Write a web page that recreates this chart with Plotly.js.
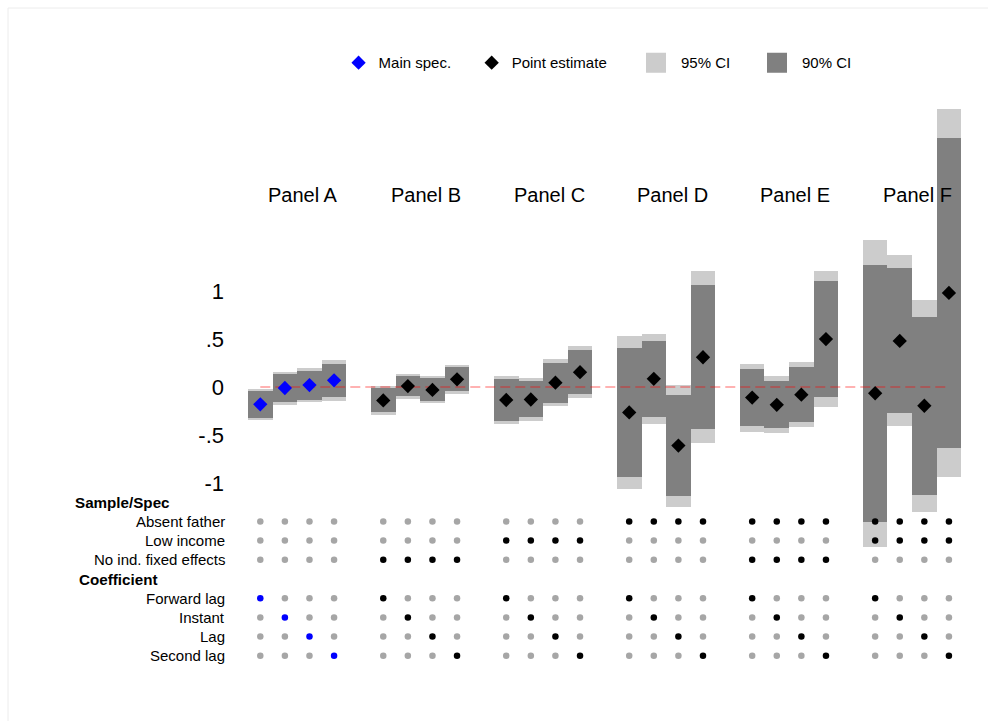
<!DOCTYPE html>
<html>
<head>
<meta charset="utf-8">
<script src="https://cdn.plot.ly/plotly-3.0.1.min.js"></script>
<style>
  html, body { margin: 0; padding: 0; background: #ffffff; }
  #chart { width: 988px; height: 721px; }
</style>
</head>
<body>
<div id="chart"></div>
<script>
// Specification chart: four coefficient timings estimated in each of six panels.
const panels = ['Panel A', 'Panel B', 'Panel C', 'Panel D', 'Panel E', 'Panel F'];
const coefficients = ['Forward lag', 'Instant', 'Lag', 'Second lag'];
const sampleRows = ['Absent father', 'Low income', 'No ind. fixed effects'];

// Sample / specification switches for each panel (1 = on)
const absentFather = [0, 0, 0, 1, 1, 1];
const lowIncome    = [0, 0, 1, 0, 0, 1];
const noIndFE      = [0, 1, 0, 0, 1, 0];
const mainPanel = 0; // the main specification is Panel A

// Point estimates and confidence bounds, four per panel (A..F)
const estimate = [
  -0.18, -0.01, 0.02, 0.07,
  -0.14, 0.01, -0.03, 0.08,
  -0.135, -0.13, 0.045, 0.155,
  -0.265, 0.085, -0.61, 0.31,
  -0.11, -0.185, -0.08, 0.50,
  -0.065, 0.48, -0.195, 0.98
];
const ci90Lo = [
  -0.32, -0.16, -0.135, -0.105,
  -0.265, -0.095, -0.15, -0.045,
  -0.35, -0.315, -0.165, -0.075,
  -0.935, -0.31, -1.14, -0.44,
  -0.41, -0.43, -0.365, -0.10,
  -1.41, -0.27, -1.12, -0.63
];
const ci90Hi = [
  -0.045, 0.135, 0.17, 0.245,
  -0.015, 0.115, 0.09, 0.205,
  0.08, 0.06, 0.255, 0.39,
  0.41, 0.475, -0.08, 1.065,
  0.19, 0.06, 0.205, 1.10,
  1.275, 1.235, 0.73, 2.59
];
const ci95Lo = [
  -0.345, -0.19, -0.16, -0.145,
  -0.29, -0.12, -0.17, -0.07,
  -0.385, -0.35, -0.20, -0.115,
  -1.065, -0.39, -1.245, -0.58,
  -0.47, -0.48, -0.42, -0.21,
  -1.67, -0.41, -1.30, -0.94
];
const ci95Hi = [
  -0.02, 0.16, 0.195, 0.285,
  0.01, 0.14, 0.11, 0.23,
  0.115, 0.095, 0.29, 0.425,
  0.535, 0.555, 0.02, 1.205,
  0.245, 0.11, 0.26, 1.21,
  1.535, 1.375, 0.905, 2.90
];

const yTickVals = [1, 0.5, 0, -0.5, -1];
const yTickText = ['1', '.5', '0', '-.5', '-1'];

// ---- layout helpers -------------------------------------------------------
const nCoef = coefficients.length;
const slot = nCoef + 1;                       // one empty slot between panels
const xPos = estimate.map((_, i) => Math.floor(i / nCoef) * slot + (i % nCoef) + 1);
const panelOf = i => Math.floor(i / nCoef);

const headerSampleY = -1.2;
const sampleY = sampleRows.map((_, r) => -1.4 - 0.2 * r);
const headerCoefY = -2.0;
const coefY = coefficients.map((_, r) => -2.2 - 0.2 * r);
const panelLabelY = 2.0;

const LIGHT = '#cccccc', DARK = '#808080', BLUE = '#0000ff', BLACK = '#000000', OFF = '#a6a6a6';
const FONT = 'Liberation Sans, Arial, Helvetica, sans-serif';

// ---- confidence bars ------------------------------------------------------
const bar95 = {
  type: 'bar', x: xPos, base: ci95Lo, y: ci95Hi.map((h, i) => h - ci95Lo[i]),
  width: 1, marker: { color: LIGHT, line: { width: 0 } },
  showlegend: false, hoverinfo: 'skip'
};
const bar90 = {
  type: 'bar', x: xPos, base: ci90Lo, y: ci90Hi.map((h, i) => h - ci90Lo[i]),
  width: 1, marker: { color: DARK, line: { width: 0 } },
  showlegend: false, hoverinfo: 'skip'
};

// zero reference line spanning the first to the last specification
const zeroLine = {
  type: 'scatter', mode: 'lines',
  x: [Math.min(...xPos), Math.max(...xPos)], y: [0, 0],
  line: { color: 'rgba(255,0,0,0.3)', width: 2, dash: '10px,5px' },
  showlegend: false, hoverinfo: 'skip'
};

// ---- point estimates ------------------------------------------------------
const mainIdx = estimate.map((_, i) => i).filter(i => panelOf(i) === mainPanel);
const otherIdx = estimate.map((_, i) => i).filter(i => panelOf(i) !== mainPanel);
const mainPts = {
  type: 'scatter', mode: 'markers', name: 'Main spec.',
  x: mainIdx.map(i => xPos[i]), y: mainIdx.map(i => estimate[i]),
  marker: { symbol: 'diamond', size: 11, color: BLUE },
  legend: 'legend'
};
const otherPts = {
  type: 'scatter', mode: 'markers', name: 'Point estimate',
  x: otherIdx.map(i => xPos[i]), y: otherIdx.map(i => estimate[i]),
  marker: { symbol: 'diamond', size: 11, color: BLACK },
  legend: 'legend2'
};

// legend keys for the two interval shades
const key95 = {
  type: 'scatter', mode: 'markers', name: '95% CI', x: [null], y: [null],
  marker: { symbol: 'square', size: 16, color: LIGHT, line: { color: LIGHT, width: 4 } },
  legend: 'legend3', hoverinfo: 'skip'
};
const key90 = {
  type: 'scatter', mode: 'markers', name: '90% CI', x: [null], y: [null],
  marker: { symbol: 'square', size: 16, color: DARK, line: { color: DARK, width: 4 } },
  legend: 'legend4', hoverinfo: 'skip'
};

// ---- specification indicator dots -----------------------------------------
const dotX = [], dotY = [], dotC = [];
const sampleFlags = [absentFather, lowIncome, noIndFE];
xPos.forEach((x, i) => {
  const p = panelOf(i);
  const onColor = p === mainPanel ? BLUE : BLACK;
  sampleFlags.forEach((flags, r) => {
    dotX.push(x); dotY.push(sampleY[r]); dotC.push(flags[p] ? onColor : OFF);
  });
  coefficients.forEach((_, r) => {
    dotX.push(x); dotY.push(coefY[r]); dotC.push(r === i % nCoef ? onColor : OFF);
  });
});
const dots = {
  type: 'scatter', mode: 'markers', x: dotX, y: dotY,
  marker: { symbol: 'circle', size: 6.5, color: dotC },
  showlegend: false, hoverinfo: 'skip'
};

// ---- text -----------------------------------------------------------------
const annotations = [];
panels.forEach((name, p) => {
  const xs = xPos.filter((_, i) => panelOf(i) === p);
  annotations.push({
    x: (Math.min(...xs) + Math.max(...xs)) / 2 + 0.24, y: panelLabelY,
    xref: 'x', yref: 'y', text: name, showarrow: false,
    font: { size: 20, color: BLACK, family: FONT }, xanchor: 'center', yanchor: 'middle'
  });
});
const rowLabel = (text, y) => ({
  x: -0.0175, y: y, xref: 'paper', yref: 'y', text: text, showarrow: false,
  xanchor: 'right', yanchor: 'middle', font: { size: 15, color: BLACK, family: FONT }
});
const header = (text, x, y) => ({
  x: x, y: y, xref: 'paper', yref: 'y', text: '<b>' + text + '</b>', showarrow: false,
  xanchor: 'left', yanchor: 'middle', font: { size: 15.2, color: BLACK, family: FONT }
});
annotations.push(header('Sample/Spec', -0.2272, headerSampleY));
sampleRows.forEach((t, r) => annotations.push(rowLabel(t, sampleY[r])));
annotations.push(header('Coefficient', -0.2217, headerCoefY));
coefficients.forEach((t, r) => annotations.push(rowLabel(t, coefY[r])));

const legendBase = {
  orientation: 'h', yanchor: 'middle', xanchor: 'left', y: 1.064,
  bgcolor: 'rgba(0,0,0,0)', borderwidth: 0,
  font: { size: 15, color: BLACK, family: FONT }
};

// faint frame along the top and left of the figure
const frame = {
  type: 'path', xref: 'paper', yref: 'paper', layer: 'below',
  path: 'M -0.3156,-0.0707 L -0.3156,1.1586 L 1.0177,1.1586',
  line: { color: '#ececec', width: 1 }
};

const layout = {
  width: 988, height: 721,
  margin: { l: 240, r: 13, t: 100, b: 41, pad: 0 },
  paper_bgcolor: '#ffffff', plot_bgcolor: '#ffffff',
  barmode: 'overlay', bargap: 0,
  font: { family: FONT, color: BLACK },
  showlegend: true,
  xaxis: { range: [0.175, 30.06], visible: false, fixedrange: true },
  yaxis: {
    range: [-3.052, 2.99], tickvals: yTickVals, ticktext: yTickText,
    showgrid: false, zeroline: false, showline: false, ticks: '',
    tickfont: { size: 22, color: BLACK, family: FONT }, ticklabelstandoff: 15,
    fixedrange: true
  },
  legend:  Object.assign({}, legendBase, { x: 0.1341, itemwidth: 30 }),
  legend2: Object.assign({}, legendBase, { x: 0.3152, itemwidth: 30 }),
  legend3: Object.assign({}, legendBase, { x: 0.532, itemwidth: 40 }),
  legend4: Object.assign({}, legendBase, { x: 0.6966, itemwidth: 40 }),
  shapes: [frame],
  annotations: annotations
};

Plotly.newPlot('chart',
  [bar95, bar90, zeroLine, mainPts, otherPts, dots, key95, key90],
  layout, { displayModeBar: false, responsive: false });
</script>
</body>
</html>
